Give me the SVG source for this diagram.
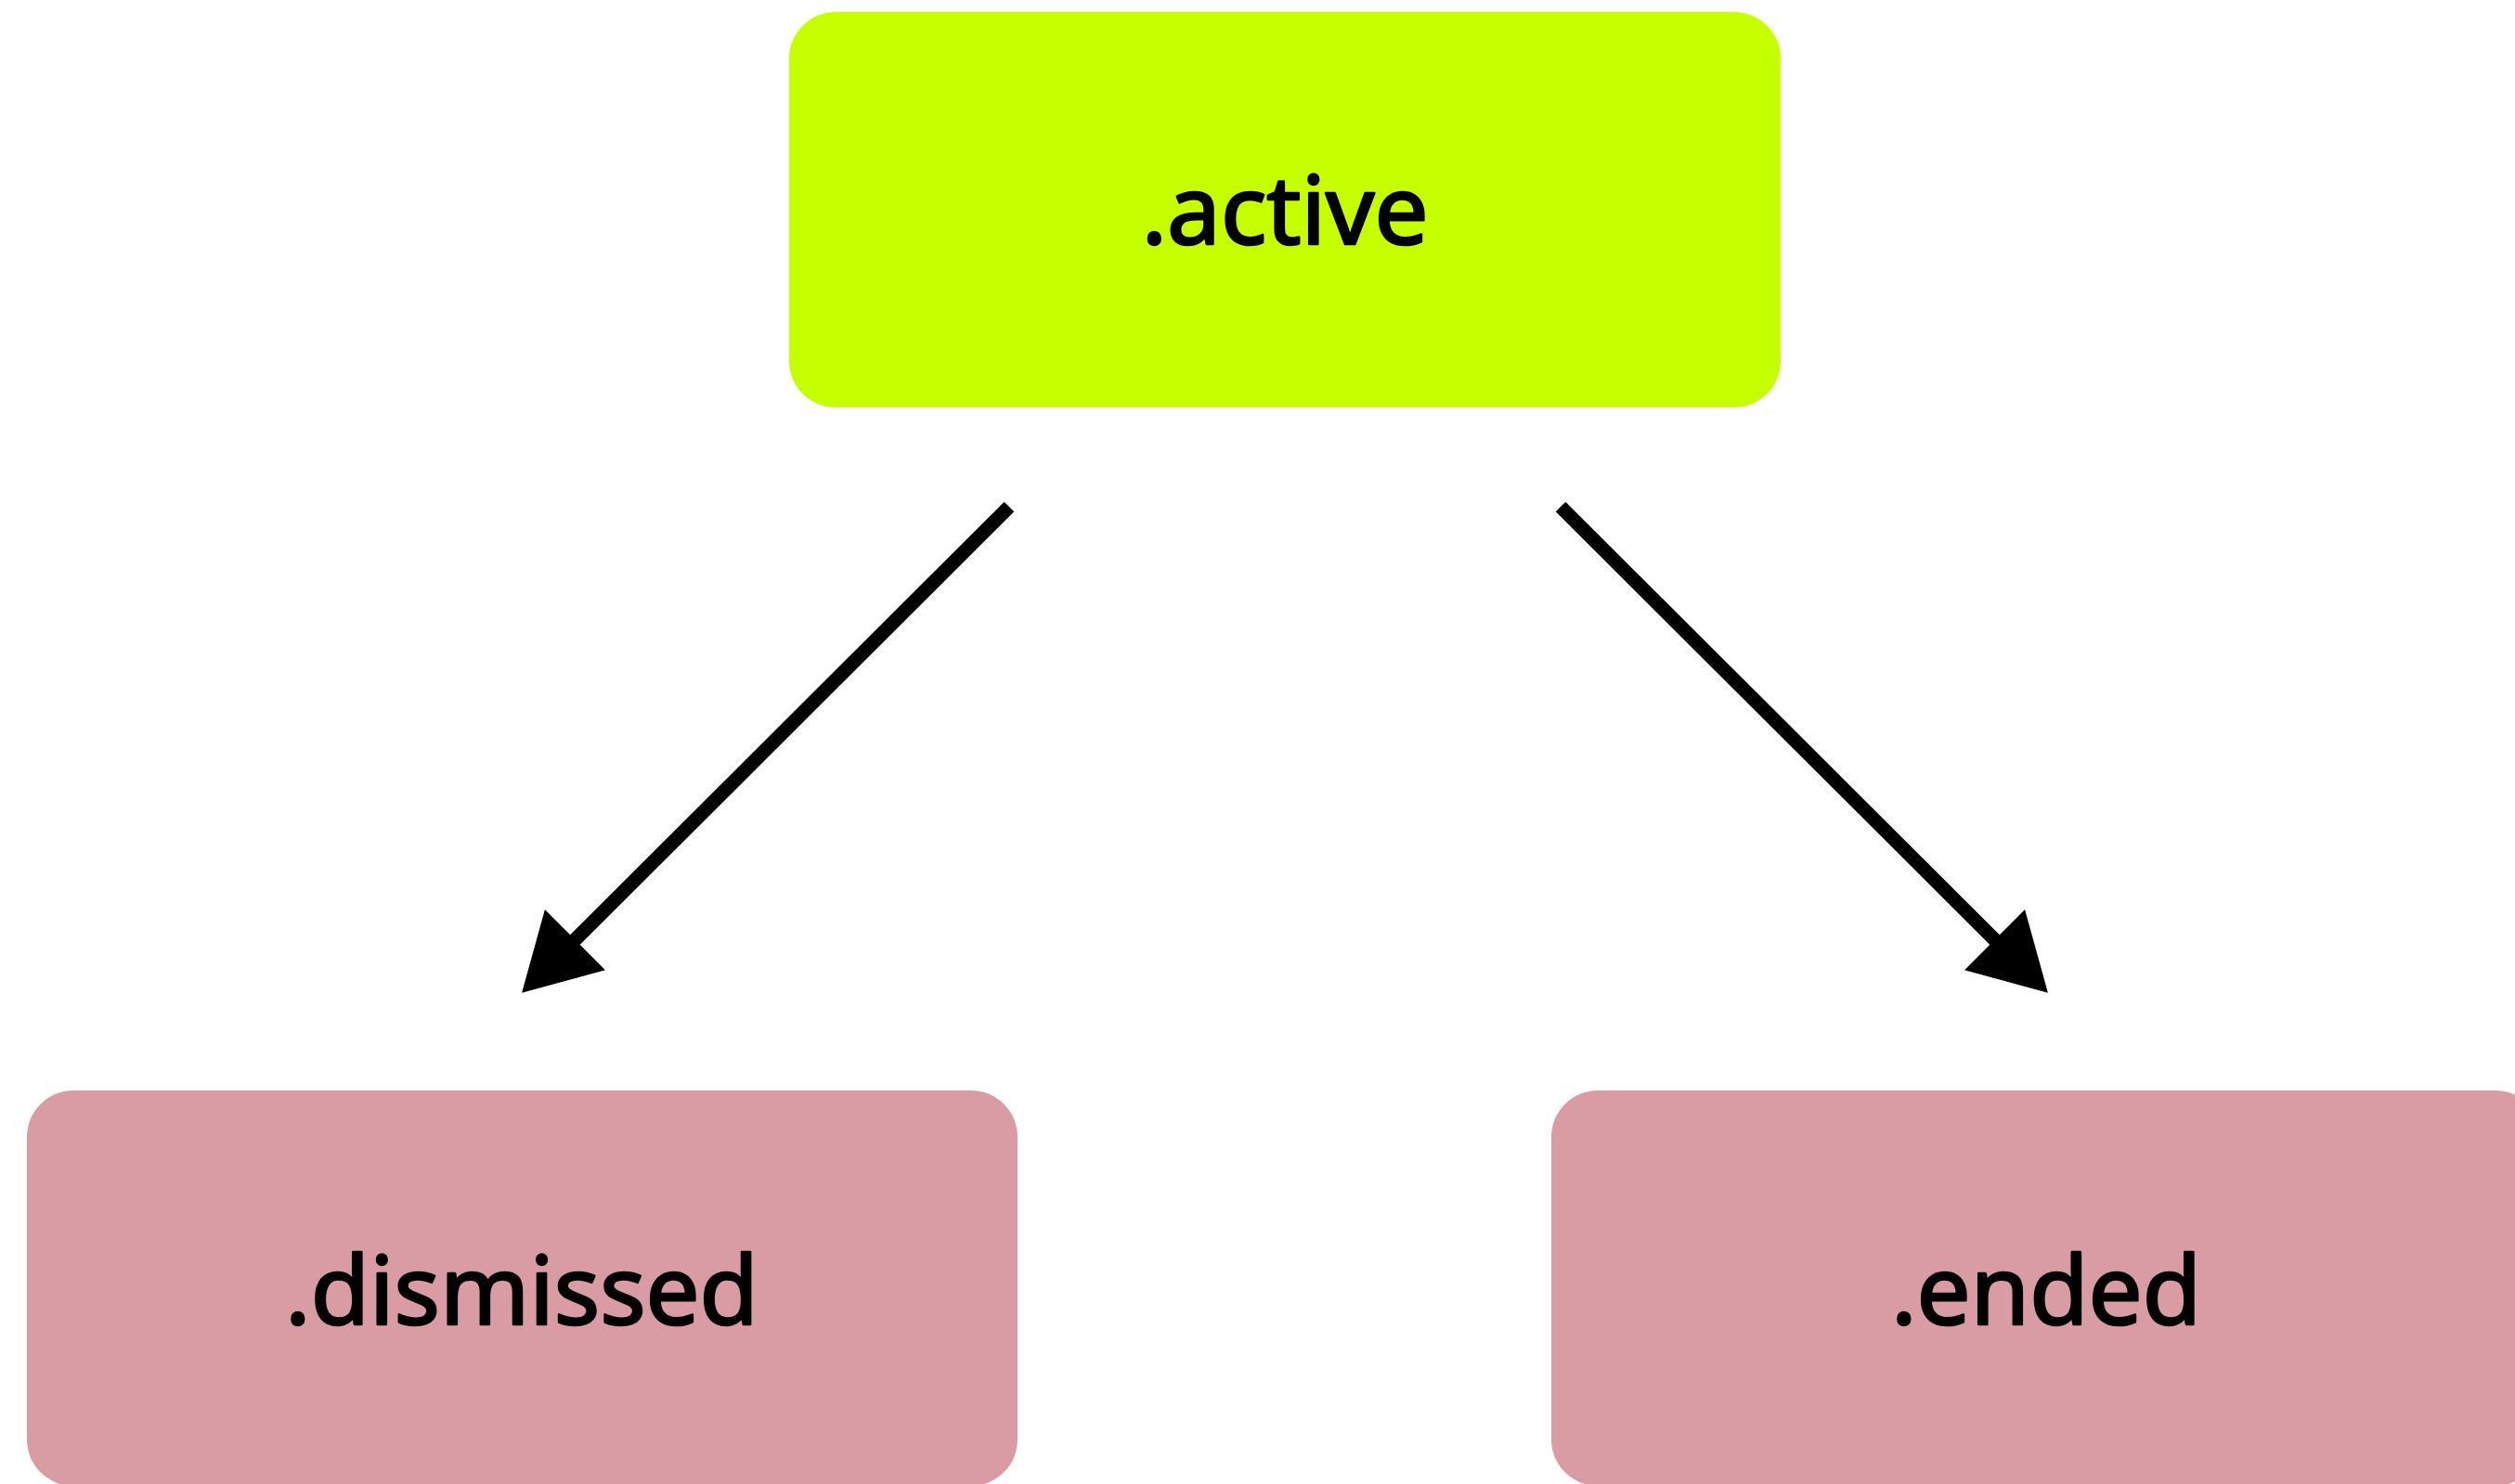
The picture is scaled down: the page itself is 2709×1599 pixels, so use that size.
<svg xmlns="http://www.w3.org/2000/svg" width="2709" height="1599" viewBox="0 0 2709 1599">
<style>
.lbl{font-family:"Noto Sans","Open Sans",sans-serif;font-size:103px;font-weight:400;fill:#000;stroke:#000;stroke-width:2.6px;stroke-linejoin:round;text-anchor:middle;}
.active{fill:#C6FF00;}
.final{fill:#D99CA5;}
.edge{stroke:#000;stroke-width:15;fill:none;}
</style>
<defs>
<marker id="ah" markerUnits="userSpaceOnUse" orient="auto" refX="2" refY="0" markerWidth="90" markerHeight="100" viewBox="0 -50 90 100" overflow="visible">
<path d="M0,-46 L81,0 L0,46 z" fill="#000"/>
</marker>
</defs>
<rect width="2709" height="1599" fill="#fff"/>
<g id="node-active">
<rect class="active" x="850" y="13" width="1068" height="426" rx="50" ry="50"/>
<text class="lbl" x="1384" y="263">.active</text>
</g>
<g id="node-dismissed">
<rect class="final" x="29" y="1175" width="1067" height="426" rx="50" ry="50"/>
<text class="lbl" x="562" y="1427">.dismissed</text>
</g>
<g id="node-ended">
<rect class="final" x="1671" y="1175" width="1067" height="426" rx="50" ry="50"/>
<text class="lbl" x="2204" y="1427">.ended</text>
</g>
<g id="connectors">
<path class="edge" d="M1087,546 L618,1014" marker-end="url(#ah)"/>
<path class="edge" d="M1681,546 L2150,1014" marker-end="url(#ah)"/>
</g>
</svg>
